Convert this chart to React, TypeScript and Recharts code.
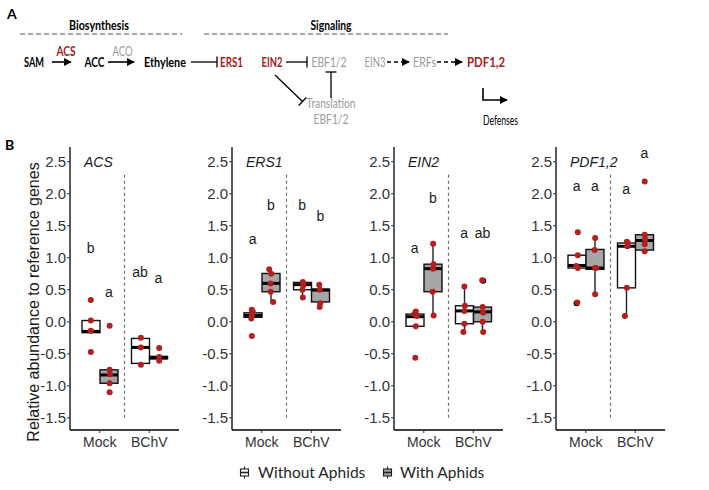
import { ComposedChart, Bar, Scatter, XAxis, YAxis, ReferenceLine } from "recharts";

const groups = ["Mock", "BChV"];
const yTicks = [-1.5, -1, -0.5, 0, 0.5, 1, 1.5, 2, 2.5];
const genes = ["ACS", "ERS1", "EIN2", "PDF1,2"];
const axisLeft = [70, 232, 394, 556];
const letterX = [0.815, 1.185, 1.815, 2.185];

// box stats [lower whisker, q1, median, q3, upper whisker], Mock then BChV
const acsWithout = [[-0.17, -0.17, -0.15, 0.02, 0.02], [-0.65, -0.65, -0.4, -0.26, -0.26]];
const acsWith = [[-0.96, -0.96, -0.83, -0.75, -0.75], [-0.58, -0.58, -0.56, -0.54, -0.54]];
const ers1Without = [[0.07, 0.07, 0.1, 0.14, 0.14], [0.38, 0.5, 0.58, 0.615, 0.625]];
const ers1With = [[0.31, 0.47, 0.6, 0.755, 0.8], [0.23, 0.31, 0.495, 0.51, 0.57]];
const ein2Without = [[-0.07, -0.07, 0.08, 0.12, 0.12], [-0.16, -0.03, 0.17, 0.25, 0.55]];
const ein2With = [[0.1, 0.47, 0.83, 0.9, 1.22], [-0.16, 0.0, 0.155, 0.23, 0.23]];
const pdfWithout = [[0.84, 0.84, 0.88, 1.04, 1.04], [0.09, 0.53, 1.18, 1.23, 1.23]];
const pdfWith = [[0.43, 0.82, 0.84, 1.13, 1.31], [1.12, 1.12, 1.27, 1.36, 1.36]];

// individual samples [x position (1 = Mock, 2 = BChV), value]
const acsPts = [
  [0.82, 0.34], [0.82, 0.02], [0.82, -0.14], [0.82, -0.47],
  [1.2, -0.06], [1.2, -0.75], [1.21, -0.82], [1.2, -0.96], [1.2, -1.1],
  [1.83, -0.25], [1.83, -0.4], [1.83, -0.67],
  [2.2, -0.41], [2.2, -0.55], [2.2, -0.61],
];
const ers1Pts = [
  [0.8, 0.19], [0.82, 0.16], [0.8, 0.1], [0.79, 0.05], [0.8, -0.22],
  [1.15, 0.82], [1.19, 0.75], [1.18, 0.6], [1.18, 0.47], [1.23, 0.31],
  [1.83, 0.62], [1.84, 0.57], [1.82, 0.5], [1.83, 0.38],
  [2.16, 0.58], [2.17, 0.5], [2.18, 0.29], [2.17, 0.23],
];
const ein2Pts = [
  [0.84, 0.16], [0.81, 0.12], [0.86, 0.09], [0.84, -0.07], [0.83, -0.56],
  [1.19, 1.22], [1.2, 0.9], [1.19, 0.83], [1.18, 0.47], [1.2, 0.1],
  [1.82, 0.55], [1.83, 0.25], [1.82, 0.17], [1.82, -0.03], [1.8, -0.16],
  [2.18, 0.65], [2.19, 0.23], [2.2, 0.14], [2.19, 0.0], [2.2, -0.16],
];
const pdfPts = [
  [0.84, 1.4], [0.84, 1.04], [0.81, 0.87], [0.84, 0.84], [0.83, 0.3],
  [1.19, 1.31], [1.18, 1.12], [1.19, 0.84], [1.21, 0.84], [1.19, 0.43],
  [1.79, 0.09], [1.83, 0.53], [1.84, 1.18], [1.85, 1.23], [1.83, 1.25],
  [2.19, 2.19], [2.19, 1.36], [2.2, 1.29], [2.19, 1.21], [2.19, 1.1],
];
const acsOutliers: number[][] = [];
const ers1Outliers: number[][] = [];
const ein2Outliers = [[2.2, 0.64]];
const pdfOutliers = [[0.815, 0.29]];

// significance letters, order: Mock-without, Mock-with, BChV-without, BChV-with
const acsLetters = ["b", "a", "ab", "a"];
const acsLetterY = [1.15, 0.47, 0.78, 0.69];
const ers1Letters = ["a", "b", "b", "b"];
const ers1LetterY = [1.29, 1.82, 1.82, 1.65];
const ein2Letters = ["a", "b", "a", "ab"];
const ein2LetterY = [1.16, 1.93, 1.39, 1.39];
const pdfLetters = ["a", "a", "a", "a"];
const pdfLetterY = [2.125, 2.125, 2.08, 2.63];

const panels = [
  { without: acsWithout, with: acsWith, pts: acsPts, out: acsOutliers, letters: acsLetters, letterY: acsLetterY },
  { without: ers1Without, with: ers1With, pts: ers1Pts, out: ers1Outliers, letters: ers1Letters, letterY: ers1LetterY },
  { without: ein2Without, with: ein2With, pts: ein2Pts, out: ein2Outliers, letters: ein2Letters, letterY: ein2LetterY },
  { without: pdfWithout, with: pdfWith, pts: pdfPts, out: pdfOutliers, letters: pdfLetters, letterY: pdfLetterY },
];

const RED = "#b21f1f";
const DARKRED = "#a3201d";
const GREYTXT = "#9a9a9a";
const AXFONT = "'Liberation Sans', Arial, sans-serif";
const DFONT = "Lato, 'Noto Sans', sans-serif";

const boxShape = (key: "wo" | "w", fill: string) => (props: any) => {
  const { x, y, width, height } = props;
  const entry = props.payload ?? props;
  const s: number[] | undefined = entry?.[key];
  if (!s || x == null || y == null) return <g />;
  const top = Math.min(y, y + height);
  const bottom = Math.max(y, y + height);
  const k = (bottom - top) / (s[4] - s[0]);
  const py = (v: number) => bottom - (v - s[0]) * k;
  const cx = x + width / 2;
  return (
    <g>
      <line x1={cx} x2={cx} y1={py(s[4])} y2={py(s[0])} stroke="#222" strokeWidth={1.4} />
      <rect x={x} y={py(s[3])} width={width} height={Math.max(py(s[1]) - py(s[3]), 0.5)} fill={fill} stroke="#111" strokeWidth={1.4} />
      <line x1={x} x2={x + width} y1={py(s[2])} y2={py(s[2])} stroke="#000" strokeWidth={3} />
    </g>
  );
};

const dot = (color: string) => (p: any) => <circle cx={p.cx} cy={p.cy} r={3} fill={color} />;

const letterShape = (p: any) => (
  <text x={p.cx} y={p.cy} textAnchor="middle" dominantBaseline="central" fontSize={14} fill="#1a1a1a" fontFamily={AXFONT}>
    {p.payload?.t}
  </text>
);

function GenePanel({ idx }: { idx: number }) {
  const p = panels[idx];
  const rows = groups.map((g, i) => ({
    name: g,
    wo: p.without[i],
    w: p.with[i],
    woRange: [p.without[i][0], p.without[i][4]],
    wRange: [p.with[i][0], p.with[i][4]],
  }));
  const pts = p.pts.map(([x, y]) => ({ x, y }));
  const out = p.out.map(([x, y]) => ({ x, y }));
  const letters = p.letters.map((t, i) => ({ x: letterX[i], y: p.letterY[i], t }));
  return (
    <div style={{ position: "absolute", left: axisLeft[idx] - 45, top: 140 }}>
      <ComposedChart width={159} height={320} data={rows} margin={{ top: 7, right: 5, bottom: 0, left: 0 }} barSize={18} barGap={0}>
        <XAxis
          xAxisId="cat"
          dataKey="name"
          type="category"
          interval={0}
          padding={{ left: 5, right: 5 }}
          height={30}
          tickSize={3}
          tickMargin={4}
          axisLine={{ stroke: "#000", strokeWidth: 1.3 }}
          tickLine={{ stroke: "#333" }}
          tick={{ fontSize: 14, fill: "#333", fontFamily: AXFONT }}
        />
        <XAxis xAxisId="num" dataKey="x" type="number" domain={[0.4, 2.6]} allowDataOverflow hide />
        <YAxis
          type="number"
          domain={[-1.69, 2.73]}
          allowDataOverflow
          ticks={yTicks}
          interval={0}
          width={45}
          tickSize={3}
          tickMargin={1}
          tickFormatter={(v: number) => v.toFixed(1)}
          axisLine={{ stroke: "#000", strokeWidth: 1.3 }}
          tickLine={{ stroke: "#333" }}
          tick={{ fontSize: 15, fill: "#333", fontFamily: AXFONT }}
        />
        <ReferenceLine
          xAxisId="num"
          segment={[{ x: 1.5, y: -1.5 }, { x: 1.5, y: 2.33 }]}
          stroke="#6e6e6e"
          strokeWidth={1.2}
          strokeDasharray="3 3"
        />
        <Bar xAxisId="cat" dataKey="woRange" shape={boxShape("wo", "#ffffff")} isAnimationActive={false} />
        <Bar xAxisId="cat" dataKey="wRange" shape={boxShape("w", "#a6a6a6")} isAnimationActive={false} />
        <Scatter xAxisId="num" data={out} dataKey="y" shape={dot("#000")} isAnimationActive={false} />
        <Scatter xAxisId="num" data={pts} dataKey="y" shape={dot(RED)} isAnimationActive={false} />
        <Scatter xAxisId="num" data={letters} dataKey="y" shape={letterShape} isAnimationActive={false} />
      </ComposedChart>
    </div>
  );
}

function Inhibit({ x1, y1, x2, y2 }: { x1: number; y1: number; x2: number; y2: number }) {
  const dx = x2 - x1;
  const dy = y2 - y1;
  const len = Math.hypot(dx, dy);
  const nx = (-dy / len) * 5.5;
  const ny = (dx / len) * 5.5;
  return (
    <g stroke="#000" strokeWidth={1.3}>
      <line x1={x1} y1={y1} x2={x2} y2={y2} />
      <line x1={x2 - nx} y1={y2 - ny} x2={x2 + nx} y2={y2 + ny} />
    </g>
  );
}

function Overlay() {
  // diagram labels squeezed to the widths seen in the figure
  const t = (x: number, y: number, s: string, color: string, bold: boolean, w: number) => (
    <text
      x={x - w / 2}
      y={y}
      textLength={w}
      lengthAdjust="spacingAndGlyphs"
      fontFamily={DFONT}
      fontWeight={bold ? 700 : 400}
      fontSize={13}
      fill={color}
    >
      {s}
    </text>
  );
  return (
    <svg width={709} height={490} style={{ position: "absolute", left: 0, top: 0, pointerEvents: "none" }}>
      <defs>
        <marker id="ah" viewBox="0 0 10 10" refX="9" refY="5" markerWidth="5" markerHeight="5" orient="auto">
          <path d="M0,0 L10,5 L0,10 z" fill="#000" />
        </marker>
      </defs>
      <text x={7} y={19} fontFamily={DFONT} fontWeight={700} fontSize={14} fill="#000">A</text>
      {t(99, 29.5, "Biosynthesis", "#000", true, 60)}
      {t(331, 29.5, "Signaling", "#000", true, 41)}
      <line x1={20} x2={182} y1={34} y2={34} stroke="#555" strokeWidth={1.2} strokeDasharray="5 3" />
      <line x1={204} x2={448} y1={34} y2={34} stroke="#555" strokeWidth={1.2} strokeDasharray="5 3" />

      {t(34, 66.5, "SAM", "#000", true, 20)}
      {t(66, 56, "ACS", DARKRED, true, 19)}
      <line x1={52} x2={71} y1={62} y2={62} stroke="#000" strokeWidth={1.6} markerEnd="url(#ah)" />
      {t(94.5, 66.5, "ACC", "#000", true, 20)}
      {t(122.5, 56, "ACO", GREYTXT, false, 20)}
      <line x1={108} x2={134} y1={62} y2={62} stroke="#000" strokeWidth={1.6} markerEnd="url(#ah)" />
      {t(165, 66.5, "Ethylene", "#000", true, 42)}
      <Inhibit x1={191} y1={62} x2={217} y2={62} />
      {t(231.5, 66.5, "ERS1", DARKRED, true, 23)}
      {t(272, 66.5, "EIN2", DARKRED, true, 21)}
      <Inhibit x1={286} y1={62} x2={307} y2={62} />
      {t(329, 66.5, "EBF1/2", GREYTXT, false, 35)}
      <Inhibit x1={331} y1={98} x2={331} y2={72} />
      <Inhibit x1={275} y1={75} x2={302.5} y2={101.5} />
      {t(331, 107.5, "Translation", GREYTXT, false, 49)}
      {t(331, 123.5, "EBF1/2", GREYTXT, false, 35)}
      {t(375, 66.5, "EIN3", GREYTXT, false, 21)}
      <line x1={387} x2={409} y1={62} y2={62} stroke="#000" strokeWidth={1.6} strokeDasharray="4 3" markerEnd="url(#ah)" />
      {t(424.5, 66.5, "ERFs", GREYTXT, false, 23)}
      <line x1={437} x2={462} y1={62} y2={62} stroke="#000" strokeWidth={1.6} strokeDasharray="4 3" markerEnd="url(#ah)" />
      {t(486, 66.5, "PDF1,2", DARKRED, true, 38)}
      <polyline points="483,88 483,100 507,100" fill="none" stroke="#000" strokeWidth={1.6} markerEnd="url(#ah)" />
      {t(500.5, 124.5, "Defenses", "#000", false, 35)}

      <text x={5} y={150} fontFamily={DFONT} fontWeight={700} fontSize={14} fill="#000">B</text>
      <text
        x={33}
        y={302}
        transform="rotate(-90 33 302)"
        textAnchor="middle"
        dominantBaseline="central"
        fontFamily={AXFONT}
        fontSize={16}
        fill="#1a1a1a"
      >
        Relative abundance to reference genes
      </text>
      {genes.map((g, i) => (
        <text key={g} x={axisLeft[i] + 14} y={167} fontFamily={AXFONT} fontStyle="italic" fontSize={14} fill="#1a1a1a">
          {g}
        </text>
      ))}

      <g stroke="#222" strokeWidth={1.1}>
        <line x1={244.5} x2={244.5} y1={466.5} y2={478.5} />
        <rect x={240.5} y={469} width={8} height={7} fill="#fff" />
        <line x1={240.5} x2={248.5} y1={472.5} y2={472.5} strokeWidth={1.6} />
        <line x1={387.5} x2={387.5} y1={466.5} y2={478.5} />
        <rect x={383.5} y={469} width={8} height={7} fill="#a6a6a6" />
        <line x1={383.5} x2={391.5} y1={472.5} y2={472.5} strokeWidth={1.6} />
      </g>
      <text x={258} y={478} fontFamily={DFONT} fontSize={15.5} fill="#262626">Without Aphids</text>
      <text x={400} y={478} fontFamily={DFONT} fontSize={15.5} fill="#262626">With Aphids</text>
    </svg>
  );
}

export default function App() {
  return (
    <div style={{ position: "absolute", left: 0, top: 0, width: 709, height: 490, background: "#fff" }}>
      {panels.map((_, i) => (
        <GenePanel key={i} idx={i} />
      ))}
      <Overlay />
    </div>
  );
}
